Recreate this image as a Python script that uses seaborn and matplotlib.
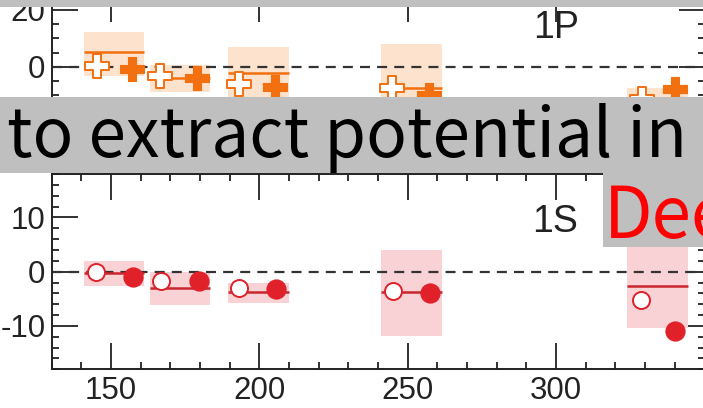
import numpy as np
import matplotlib
matplotlib.use("Agg")
import matplotlib.pyplot as plt
from matplotlib.patches import Rectangle
from matplotlib.ticker import MultipleLocator
import seaborn as sns

# ---- data -------------------------------------------------------------
# horizontal extent of each temperature bin (box left / right edge)
bin_lo = [141.0, 163.0, 189.5, 241.0, 324.0]
bin_hi = [161.0, 183.5, 210.0, 261.5, 344.5]

# 1P state
p_band_top = [12.3, 0.6, 7.1, 7.9, -7.6]
p_band_bot = [-3.3, -8.8, -14.0, -22.0, -20.0]
p_mean = [5.1, -3.9, -2.4, -7.4, -13.0]
p_open_x = [145.4, 166.6, 193.0, 244.6, 328.8]
p_open_y = [0.1, -3.3, -6.1, -7.6, -11.5]
p_full_x = [157.1, 178.8, 205.3, 257.0, 340.0]
p_full_y = [-0.8, -4.1, -7.3, -10.0, -8.0]

# 1S state
s_band_top = [2.0, 0.0, -2.0, 4.0, 5.0]
s_band_bot = [-2.6, -6.2, -5.8, -11.9, -10.4]
s_mean = [-0.3, -3.0, -3.8, -3.8, -2.6]
s_open_x = [145.0, 167.0, 193.1, 244.9, 328.5]
s_open_y = [0.0, -1.7, -3.1, -3.5, -5.2]
s_full_x = [157.4, 179.6, 205.7, 257.5, 340.2]
s_full_y = [-0.9, -1.8, -3.2, -4.0, -10.9]

x_ticks = [150, 200, 250, 300]

# ---- style ------------------------------------------------------------
sns.set_style("ticks")
plt.rcParams["font.family"] = ["Liberation Sans", "DejaVu Sans"]
plt.rcParams["axes.unicode_minus"] = False

ORANGE = "#f2700f"
PEACH = "#fde2cd"
RED = "#e0212a"
RED_LINE = "#c9262e"
PINK = "#f9d2d5"
INK = "#222222"

W, H = 703, 408
fig = plt.figure(figsize=(W / 100, H / 100), dpi=100)


def px_axes(x0, y_top, x1, y_bot):
    return fig.add_axes([x0 / W, 1 - y_bot / H, (x1 - x0) / W, (y_bot - y_top) / H])


ax_p = px_axes(51.7, -4.2, 704.5, 171.6)
ax_s = px_axes(51.7, 174.0, 704.5, 369.3)


def panel(ax, top, bot, mean, ox, oy, fx, fy, band_col, line_col, mark_col,
          marker, s_open, s_full, ylim, major, minor):
    lo = np.array(bin_lo)
    hi = np.array(bin_hi)
    ax.bar(lo, np.array(top) - np.array(bot), width=hi - lo, bottom=bot,
           align="edge", color=band_col, linewidth=0, zorder=1)
    ax.axhline(0, color="#333333", lw=1.6, ls=(0, (4.5, 3.2)), zorder=2)
    ax.hlines(mean, lo, hi, color=line_col, lw=1.8, zorder=3)
    sns.scatterplot(x=ox, y=oy, marker=marker, s=s_open, color="white",
                    edgecolor=mark_col, linewidth=1.4, zorder=4, ax=ax,
                    legend=False)
    sns.scatterplot(x=fx, y=fy, marker=marker, s=s_full, color=mark_col,
                    edgecolor=mark_col, linewidth=0.8, zorder=5, ax=ax,
                    legend=False)
    ax.set_xlim(130, 350)
    ax.set_ylim(*ylim)
    ax.xaxis.set_minor_locator(MultipleLocator(10))
    ax.set_xticks(x_ticks)
    ax.yaxis.set_major_locator(MultipleLocator(major))
    ax.yaxis.set_minor_locator(MultipleLocator(minor))
    ax.tick_params(which="both", direction="in", top=True, right=True,
                   color=INK, width=1.3)
    ax.tick_params(which="major", length=19)
    ax.tick_params(which="minor", length=5.2)
    ax.tick_params(axis="y", which="major", labelsize=22.5, pad=4.5,
                   labelcolor=INK)
    ax.tick_params(axis="x", which="major", labelsize=22.5, pad=5,
                   labelcolor=INK)
    for sp in ax.spines.values():
        sp.set_color(INK)
        sp.set_linewidth(1.4)
    ax.set_xlabel("")
    ax.set_ylabel("")
    ax.set_facecolor("white")


panel(ax_p, p_band_top, p_band_bot, p_mean, p_open_x, p_open_y, p_full_x,
      p_full_y, PEACH, ORANGE, ORANGE, "P", 300, 300, (-37, 25), 20, 5)
panel(ax_s, s_band_top, s_band_bot, s_mean, s_open_x, s_open_y, s_full_x,
      s_full_y, PINK, RED_LINE, RED, "o", 150, 190, (-18, 18), 10, 2)
ax_p.tick_params(axis="x", labelbottom=False)

# state labels
fig.text(556 / W, 1 - 28 / H, "1P", fontsize=27, color=INK,
         ha="center", va="center")
fig.text(555 / W, 1 - 221.7 / H, "1S", fontsize=27, color=INK,
         ha="center", va="center")

# ---- slide overlays ---------------------------------------------------
GREY = "#bfbfbf"


def grey_box(x0, y0, x1, y1):
    fig.add_artist(Rectangle((x0 / W, 1 - y1 / H), (x1 - x0) / W,
                             (y1 - y0) / H, transform=fig.transFigure,
                             facecolor=GREY, edgecolor="none", zorder=20))


grey_box(0, 0, W, 6.8)
grey_box(0, 96.7, W, 173.3)
grey_box(602.7, 173.3, W, 247.3)

fig.text(7 / W, 1 - 157.5 / H, "to extract potential in",
         family=["Noto Sans CJK SC", "DejaVu Sans"], fontweight="light",
         fontsize=48.6, color="black", ha="left", va="baseline", zorder=21)
fig.text(604 / W, 1 - 238.3 / H, "Dee",
         family=["Noto Sans CJK SC", "DejaVu Sans"], fontweight="light",
         fontsize=51, color="red", ha="left", va="baseline", zorder=21)

fig.savefig("out.png", dpi=100)
